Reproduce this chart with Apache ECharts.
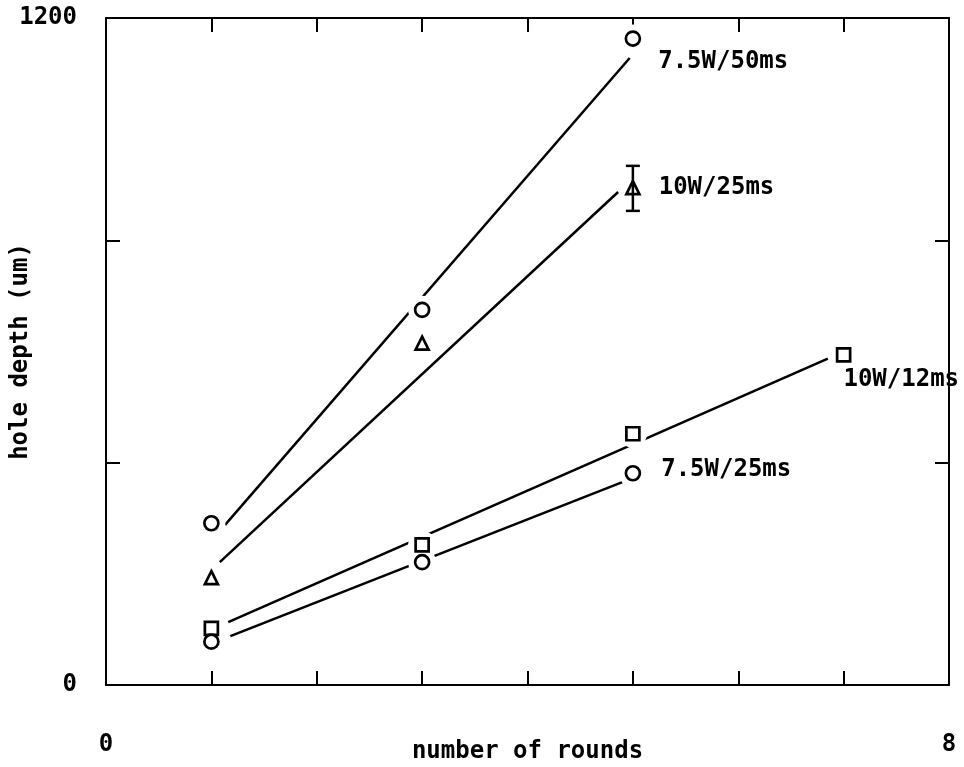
<!DOCTYPE html>
<html>
<head>
<meta charset="utf-8">
<script src="https://cdn.jsdelivr.net/npm/echarts@6/dist/echarts.min.js"></script>
<style>
  html, body { margin: 0; padding: 0; background: #fff; }
  #chart { width: 964px; height: 767px; }
</style>
</head>
<body>
<div id="chart"></div>
<script>
// measured points (number of rounds, hole depth um)
const rounds = [1, 3, 5];
const rounds12 = [1, 3, 5, 7];
const depth750 = [291, 675, 1163];      // 7.5W/50ms
const depth1025 = [193, 615, 895];      // 10W/25ms
const depth1012 = [102, 252, 452, 594]; // 10W/12ms
const depth725 = [78, 221, 381];        // 7.5W/25ms

// error bar on 10W/25ms at 5 rounds
const errX = [5];
const errLow = [853];
const errHigh = [934];

// fitted lines, end points
const fit750X = [1.13, 4.97], fit750Y = [288, 1128];
const fit1025X = [1.08, 4.86], fit1025Y = [221, 887];
const fit1012X = [1.16, 6.85], fit1012Y = [113, 587];
const fit725X = [1.18, 4.9], fit725Y = [88, 365];

const names = ['7.5W/50ms', '10W/25ms', '10W/12ms', '7.5W/25ms'];

const FONT = 'DejaVu Sans Mono';
const txt = { fontFamily: FONT, fontWeight: 'bold', fontSize: 24, color: '#000' };

const zip = (xs, ys) => xs.map((x, i) => [x, ys[i]]);

const fitLine = (xs, ys) => ({
  type: 'line',
  data: zip(xs, ys),
  symbol: 'none',
  silent: true,
  z: 2,
  lineStyle: { color: '#000', width: 2.5 }
});

const symbols = { circle: 'circle', triangle: 'triangle', square: 'rect' };

const marks = (xs, ys, symbol, size, name, lbl) => ({
  type: 'scatter',
  name: name,
  data: zip(xs, ys),
  symbol: symbol,
  symbolSize: size,
  z: 4,
  itemStyle: { color: '#fff', borderColor: '#000', borderWidth: 2.7, opacity: 1 },
  label: Object.assign({
    show: true,
    position: 'right',
    formatter: p => p.dataIndex === xs.length - 1 ? name : ''
  }, txt, lbl)
});

const allPts = [].concat(
  zip(rounds, depth750), zip(rounds, depth1025),
  zip(rounds12, depth1012), zip(rounds, depth725)
);

const chart = echarts.init(document.getElementById('chart'));

const lineSt = { color: '#000', width: 2 };
const baseX = {
  type: 'value', min: 0, max: 8, interval: 1,
  axisLine: { show: true, onZero: false, lineStyle: lineSt },
  axisTick: { show: true, inside: true, length: 14, lineStyle: lineSt },
  splitLine: { show: false }
};
const baseY = {
  type: 'value', min: 0, max: 1200, interval: 400,
  axisLine: { show: true, onZero: false, lineStyle: lineSt },
  axisTick: { show: true, inside: true, length: 14, lineStyle: lineSt },
  splitLine: { show: false }
};

chart.setOption({
  animation: false,
  backgroundColor: '#fff',
  grid: { left: 106, right: 15, top: 18, bottom: 82, outerBoundsMode: 'none' },
  xAxis: [
    Object.assign({}, baseX, {
      position: 'bottom',
      name: 'number of rounds',
      nameLocation: 'middle',
      nameGap: 55,
      nameMoveOverlap: false,
      nameTextStyle: txt,
      axisLabel: Object.assign({ margin: 48, formatter: v => (v === 0 || v === 8) ? String(v) : '' }, txt)
    }),
    Object.assign({}, baseX, { position: 'top', axisLabel: { show: false } })
  ],
  yAxis: [
    Object.assign({}, baseY, {
      position: 'left',
      name: 'hole depth (um)',
      nameLocation: 'middle',
      nameGap: 73,
      nameRotate: 90,
      nameMoveOverlap: false,
      nameTextStyle: txt,
      axisLabel: Object.assign({ margin: 29, formatter: v => (v === 0 || v === 1200) ? String(v) : '' }, txt)
    }),
    Object.assign({}, baseY, { position: 'right', axisLabel: { show: false } })
  ],
  series: [
    fitLine(fit750X, fit750Y),
    fitLine(fit1025X, fit1025Y),
    fitLine(fit1012X, fit1012Y),
    fitLine(fit725X, fit725Y),
    // white halo so the fit lines break around the markers
    {
      type: 'scatter', data: allPts, symbol: 'circle', symbolSize: 28,
      silent: true, z: 3, itemStyle: { color: '#fff', opacity: 1 }
    },
    marks(rounds, depth750, symbols.circle, 14, names[0], { distance: 17, offset: [0, 23] }),
    marks(rounds, depth1025, symbols.triangle, 13, names[1], { distance: 18, offset: [0, 0] }),
    marks(rounds12, depth1012, symbols.square, 13, names[2], { distance: -8, offset: [0, 25] }),
    marks(rounds, depth725, symbols.circle, 14, names[3], { distance: 20, offset: [0, -3] }),
    {
      type: 'custom',
      z: 5,
      silent: true,
      data: errX.map((x, i) => [x, errLow[i], errHigh[i]]),
      renderItem: (params, api) => {
        const lo = api.coord([api.value(0), api.value(1)]);
        const hi = api.coord([api.value(0), api.value(2)]);
        const w = 7;
        const st = { stroke: '#000', lineWidth: 2.5 };
        return {
          type: 'group',
          children: [
            { type: 'line', shape: { x1: lo[0], y1: lo[1], x2: hi[0], y2: hi[1] }, style: st },
            { type: 'line', shape: { x1: lo[0] - w, y1: lo[1], x2: lo[0] + w, y2: lo[1] }, style: st },
            { type: 'line', shape: { x1: hi[0] - w, y1: hi[1], x2: hi[0] + w, y2: hi[1] }, style: st }
          ]
        };
      }
    }
  ]
});
</script>
</body>
</html>
